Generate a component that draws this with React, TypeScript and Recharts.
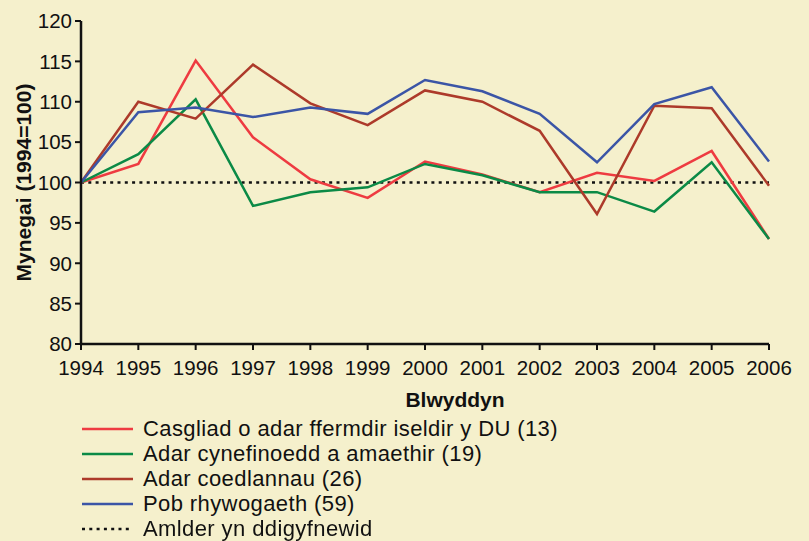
import { CartesianGrid, Label, Line, LineChart, ReferenceLine, XAxis, YAxis } from "recharts";

const years = ["1994", "1995", "1996", "1997", "1998", "1999", "2000", "2001", "2002", "2003", "2004", "2005", "2006"];

const farmland = [100, 102.3, 115.1, 105.6, 100.4, 98.1, 102.6, 101.0, 98.8, 101.2, 100.2, 103.9, 93.0];
const habitatFarm = [100, 103.5, 110.3, 97.1, 98.8, 99.4, 102.3, 100.9, 98.8, 98.8, 96.4, 102.5, 93.0];
const woodland = [100, 110.0, 107.9, 114.6, 109.8, 107.1, 111.4, 110.0, 106.4, 96.1, 109.5, 109.2, 99.6];
const allSpecies = [100, 108.7, 109.3, 108.1, 109.3, 108.5, 112.7, 111.3, 108.5, 102.5, 109.7, 111.8, 102.6];

const yTicks = [80, 85, 90, 95, 100, 105, 110, 115, 120];
const baseline = 100;

const series = [
  { key: "farmland", name: "Casgliad o adar ffermdir iseldir y DU (13)", color: "#ee3b41", values: farmland },
  { key: "habitatFarm", name: "Adar cynefinoedd a amaethir (19)", color: "#0b8a46", values: habitatFarm },
  { key: "woodland", name: "Adar coedlannau (26)", color: "#ad3a2a", values: woodland },
  { key: "allSpecies", name: "Pob rhywogaeth (59)", color: "#3b55a6", values: allSpecies },
];
const baselineName = "Amlder yn ddigyfnewid";

const data = years.map((year, i) => {
  const row: Record<string, string | number> = { year };
  series.forEach((s) => (row[s.key] = s.values[i]));
  return row;
});

const font = "'Liberation Sans', Arial, sans-serif";
const bg = "#f5f0cc";
const dots = "3 4.3";

function Swatch({ color, dash }: { color: string; dash?: string }) {
  return (
    <svg width={51} height={6} style={{ marginRight: 10, display: "block" }}>
      <line x1={0} y1={3} x2={51} y2={3} stroke={color} strokeWidth={2.5} strokeDasharray={dash} />
    </svg>
  );
}

export default function App() {
  return (
    <div style={{ position: "fixed", left: 0, top: 0, width: 809, height: 541, background: bg, fontFamily: font }}>
      <LineChart width={809} height={420} data={data} margin={{ top: 21, right: 40, left: 0, bottom: 0 }}>
        <CartesianGrid vertical={false} horizontal={false} />
        <XAxis
          dataKey="year"
          height={76}
          tick={{ fill: "#111", fontSize: 20.5, fontFamily: font }}
          tickLine={{ stroke: "#111", strokeWidth: 2 }}
          axisLine={{ stroke: "#111", strokeWidth: 2.5 }}
          tickSize={6}
          tickMargin={10}
          interval={0}
        >
          <Label
            value="Blwyddyn"
            position="insideBottom"
            offset={13}
            dx={30}
            style={{ fontWeight: 700, fontSize: 21, fill: "#111", fontFamily: font }}
          />
        </XAxis>
        <YAxis
          width={81}
          domain={[80, 120]}
          ticks={yTicks}
          interval={0}
          tick={{ fill: "#111", fontSize: 20.5, fontFamily: font }}
          tickLine={{ stroke: "#111", strokeWidth: 2 }}
          axisLine={{ stroke: "#111", strokeWidth: 2.5 }}
          tickSize={6}
          tickMargin={3}
        >
          <Label
            value="Mynegai (1994=100)"
            angle={-90}
            position="insideLeft"
            offset={24}
            style={{ textAnchor: "middle", fontWeight: 700, fontSize: 21, fill: "#111", fontFamily: font }}
          />
        </YAxis>
        <ReferenceLine y={baseline} stroke="#111" strokeWidth={2.5} strokeDasharray={dots} />
        {series.map((s) => (
          <Line
            key={s.key}
            type="linear"
            dataKey={s.key}
            name={s.name}
            stroke={s.color}
            strokeWidth={2.5}
            dot={false}
            activeDot={false}
            isAnimationActive={false}
          />
        ))}
      </LineChart>
      <div style={{ position: "absolute", left: 82, top: 416 }}>
        {series.map((s) => (
          <div key={s.key} style={{ display: "flex", alignItems: "center", height: 25 }}>
            <Swatch color={s.color} />
            <span style={{ fontSize: 22, letterSpacing: 0.4, color: "#111", whiteSpace: "nowrap" }}>{s.name}</span>
          </div>
        ))}
        <div style={{ display: "flex", alignItems: "center", height: 25 }}>
          <Swatch color="#111" dash={dots} />
          <span style={{ fontSize: 22, letterSpacing: 0.4, color: "#111", whiteSpace: "nowrap" }}>{baselineName}</span>
        </div>
      </div>
    </div>
  );
}
